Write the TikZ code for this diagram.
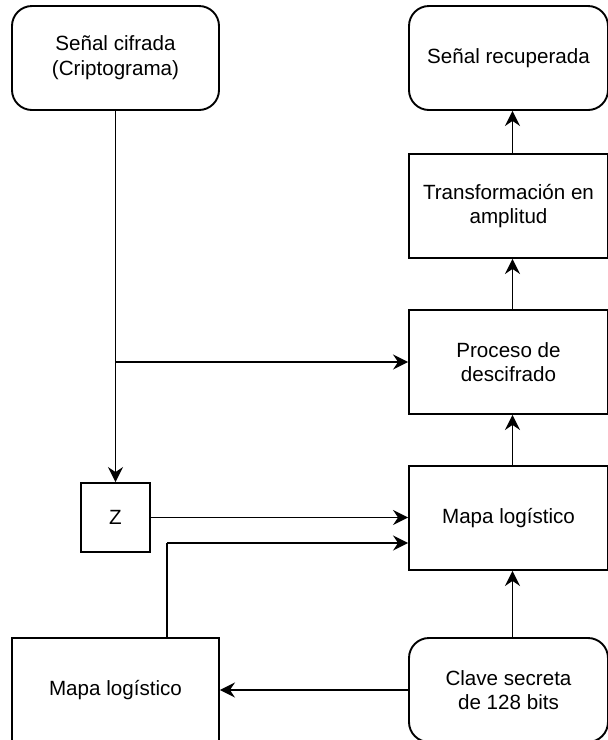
\documentclass[tikz,border=0pt]{standalone}
\usepackage{fontspec}
\setmainfont{Liberation Sans}
\usetikzlibrary{arrows.meta,positioning}
\tikzset{
  box/.style={draw, line width=1.9pt, minimum width=207pt, minimum height=104pt,
    align=center, inner sep=0pt, font=\fontsize{20.6}{24.7}\selectfont},
  rbox/.style={box, rounded corners=20pt},
  narrow/.style={minimum width=199pt},
  arr/.style={line width=1.9pt, -{Stealth[length=15pt,width=15pt,inset=5pt]}},
  ln/.style={line width=1.9pt},
  txt/.style={yshift=-2pt},
}
\begin{document}
\begin{tikzpicture}[x=1pt,y=-1pt]
  \useasboundingbox (0,0) rectangle (608,740);
  % left column
  \node[rbox] (sc) at (115.5,58) {Señal cifrada\\(Criptograma)};
  \node[box, minimum width=69pt, minimum height=69pt] (z) at (115.5,517.5) {Z};
  \node[box] (ml) at (115.5,690) {Mapa logístico};
  % right column
  \node[rbox, narrow] (sr) at (508.5,58) {Señal recuperada};
  \node[box, narrow] (ta) at (508.5,206) {Transformación en\\amplitud};
  \node[box, narrow] (pd) at (508.5,362) {Proceso de\\descifrado};
  \node[box, narrow] (mr) at (508.5,518) {Mapa logístico};
  \node[rbox, narrow] (cs) at (508.5,690) {Clave secreta\\de 128 bits};
  % branch point of the cipher signal and bend of the lower feed
  \coordinate (br) at (sc.south |- pd.west);
  \coordinate (kn) at (167,543);
  % connectors
  \draw[arr] (sc.south) -- (z.north);
  \draw[arr] (br) -- (pd.west);
  \draw[arr] (z.east) -- (z.east -| mr.west);
  \draw[ln] (ml.north -| kn) -- (kn);
  \draw[arr] (kn) -- (kn -| mr.west);
  \draw[arr] (cs.west) -- (ml.east);
  \draw[arr] ([xshift=4pt]cs.north) -- ([xshift=4pt]mr.south);
  \draw[arr] ([xshift=4pt]mr.north) -- ([xshift=4pt]pd.south);
  \draw[arr] ([xshift=4pt]pd.north) -- ([xshift=4pt]ta.south);
  \draw[arr] ([xshift=4pt]ta.north) -- ([xshift=4pt]sr.south);
\end{tikzpicture}
\end{document}
